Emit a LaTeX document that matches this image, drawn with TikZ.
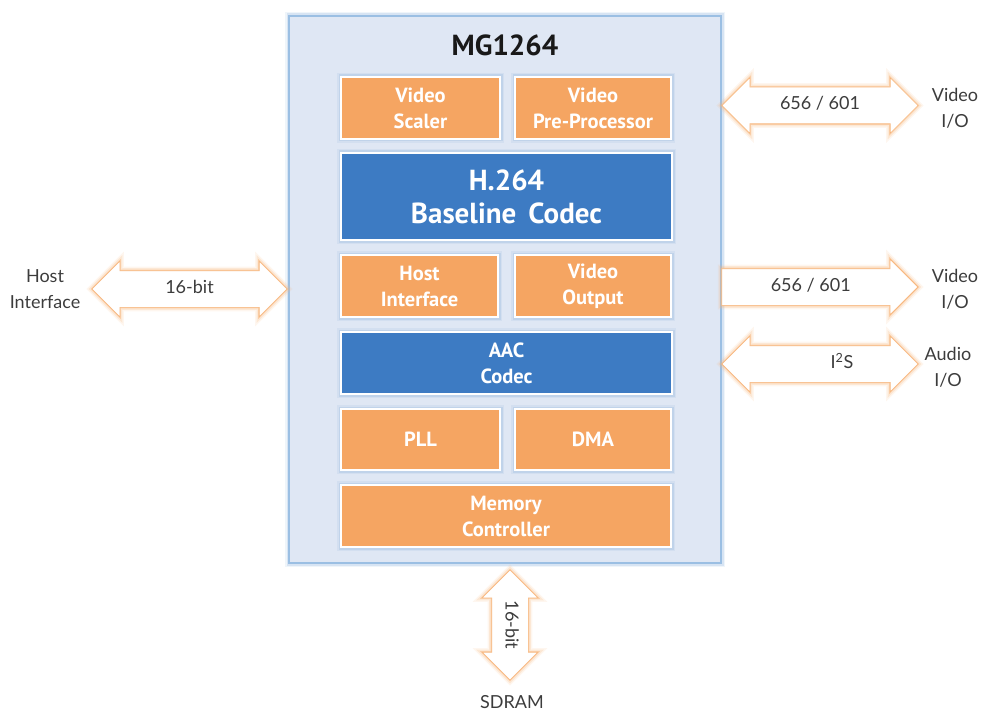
\documentclass[tikz,border=0pt]{standalone}
\usepackage{fontspec}
\setmainfont{Lato}
\newfontfamily\blockfont{PT Sans}
\usetikzlibrary{shapes.arrows}

\definecolor{chipbg}{HTML}{DFE7F4}
\definecolor{chipedge}{HTML}{9BBFE3}
\definecolor{blockorange}{HTML}{F5A562}
\definecolor{blockblue}{HTML}{3D7BC3}
\definecolor{glowblue}{HTML}{7FA9D8}
\definecolor{gloworange}{HTML}{F7B57A}
\definecolor{labelgray}{HTML}{3C3C3C}

\tikzset{
  glow/.style={preaction={draw=#1, line width=8pt, opacity=0.12},
               preaction={draw=#1, line width=5pt, opacity=0.22},
               preaction={draw=#1, line width=2pt, opacity=0.5}},
  chip/.style={rectangle, fill=chipbg, draw=chipedge, line width=1.2pt, glow=glowblue,
               minimum width=432pt, minimum height=547pt},
  block/.style={rectangle, draw=white, line width=1.5pt, fill=blockorange, text=white,
                font=\blockfont\bfseries\fontsize{20.5}{26}\selectfont, align=center,
                inner sep=0pt, glow=glowblue},
  codec/.style={block, fill=blockblue},
  wire/.style={double arrow, fill=white, draw=gloworange, line width=0.6pt, glow=gloworange,
               minimum height=#1, double arrow head extend=9.5pt,
               inner xsep=0pt, inner ysep=9.5pt, text height=13pt, text depth=4pt,
               font=\fontsize{18}{22}\selectfont, text=labelgray},
  outwire/.style={wire=#1, single arrow, single arrow head extend=9.5pt},
  port/.style={font=\fontsize{18}{26}\selectfont, text=labelgray, align=center}
}

\begin{document}
\begin{tikzpicture}[x=1pt, y=-1pt]
  \useasboundingbox (0,0) rectangle (981,711);
  % chip outline and title
  \node[chip] (chip) at (505,289.5) {};
  \node[font=\blockfont\bfseries\fontsize{29}{32}\selectfont, text=black!90] (title) at (505,45) {MG1264};

  % blocks inside the chip
  \node[block, minimum width=159pt, minimum height=62pt] (scaler) at (420.5,108) {Video\\Scaler};
  \node[block, minimum width=156pt, minimum height=62pt] (preproc) at (593,108) {Video\\Pre-Processor};
  \node[codec, minimum width=331pt, minimum height=87pt, font=\blockfont\bfseries\fontsize{29}{33}\selectfont] (h264) at (506.5,196.5) {H.264\\Baseline\, Codec};
  \node[block, minimum width=157pt, minimum height=62pt] (hostif) at (419.5,286) {Host\\Interface};
  \node[block, minimum width=156pt, minimum height=62pt] (vidout) at (593,286) {Video\\Output};
  \node[codec, minimum width=331pt, minimum height=62pt] (aac) at (506.5,363) {AAC\\Codec};
  \node[block, minimum width=159pt, minimum height=61pt] (pll) at (420.5,439.5) {PLL};
  \node[block, minimum width=156pt, minimum height=61pt] (dma) at (593,439.5) {DMA};
  \node[block, minimum width=330pt, minimum height=62pt] (memctl) at (506,516) {Memory\\Controller};

  % external ports
  \node[port] (vidio) at (955,108) {Video\\I/O};
  \node[port] (vidoutio) at (955,289) {Video\\I/O};
  \node[port] (audio) at (948,367) {Audio\\I/O};
  \node[port] (host) at (45,289) {Host\\Interface};
  \node[port] (sdram) at (512,702) {SDRAM};

  % buses
  \node[wire=196pt] (vidbus) at (820,105.5) {656 / 601};
  \node[outwire=196pt, anchor=tail] (outbus) at (chip.east |- 0,287) {656 / 601};
  \node[wire=196pt] (i2sbus) at (820,364) {\hspace*{44pt}I\textsuperscript{2}S};
  \node[wire=195pt] (hostbus) at (189.5,289) {16-bit};
  \node[wire=110pt, rotate=-90] (membus) at (510,625) {16-bit};
\end{tikzpicture}
\end{document}
